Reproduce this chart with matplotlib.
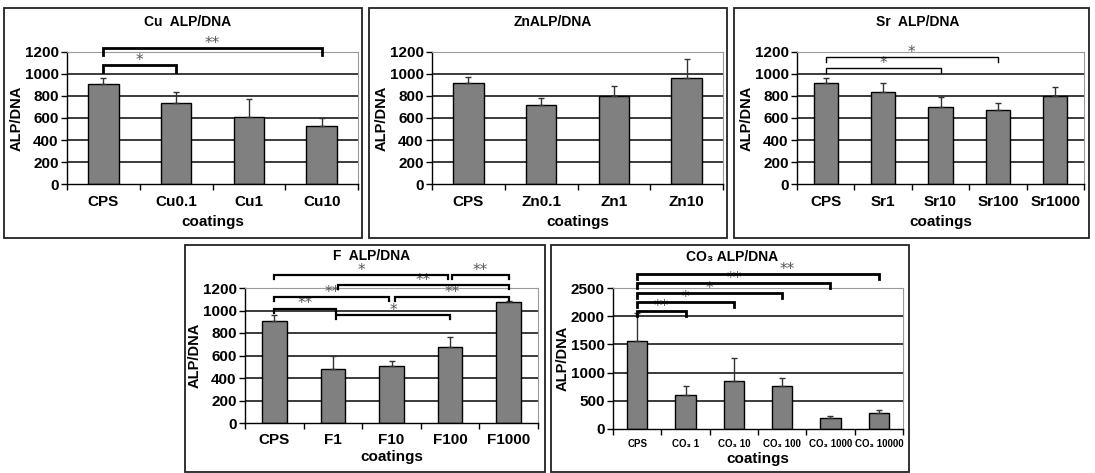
import matplotlib
matplotlib.use('Agg')
import matplotlib.pyplot as plt
from matplotlib.patches import Rectangle
import numpy as np

plt.rcParams['font.family'] = ['Liberation Sans', 'DejaVu Sans']
plt.rcParams['font.weight'] = 'bold'

W, H = 1095, 473

# ALP/DNA per coating (mean, upper SD)
cu_labels = ['CPS', 'Cu0.1', 'Cu1', 'Cu10']
cu_mean = [910, 733, 612, 527]
cu_err = [50, 106, 161, 70]
cu_sig = [(0, 1, 1080, '*', None), (0, 3, 1235, '**', None)]

zn_labels = ['CPS', 'Zn0.1', 'Zn1', 'Zn10']
zn_mean = [915, 718, 800, 960]
zn_err = [55, 65, 93, 172]
zn_sig = []

sr_labels = ['CPS', 'Sr1', 'Sr10', 'Sr100', 'Sr1000']
sr_mean = [915, 839, 697, 673, 800]
sr_err = [46, 76, 97, 60, 79]
sr_sig = [(0, 2, 1052, '*', None), (0, 3, 1152, '*', None)]

f_labels = ['CPS', 'F1', 'F10', 'F100', 'F1000']
f_mean = [908, 477, 509, 676, 1075]
f_err = [53, 121, 42, 89, 8]
f_sig = [(0, 2.96, 1313, '*', None), (3.04, 4, 1313, '**', None),
         (1.08, 4, 1223, '**', None),
         (0, 1.96, 1116, '**', None), (2.06, 4, 1116, '**', None),
         (0, 1.05, 1015, '**', None), (1.05, 3, 961, '*', None)]

co3_labels = ['CPS', 'CO₃ 1', 'CO₃ 10', 'CO₃ 100', 'CO₃ 1000', 'CO₃ 10000']
co3_mean = [1566, 608, 857, 756, 195, 283]
co3_err = [490, 150, 400, 148, 29, 59]
co3_sig = [(0, 5, 2748, '**', 3.1), (0, 4, 2588, '**', None),
           (0, 3, 2411, '*', None), (0, 2, 2245, '*', None),
           (0, 1, 2085, '**', None)]

fig = plt.figure(figsize=(W / 100, H / 100), dpi=100)


def px_axes(x0, x1, ytop, ybot):
    return fig.add_axes([x0 / W, 1 - ybot / H, (x1 - x0) / W, (ybot - ytop) / H])


def frame(x0, y0, x1, y1):
    fig.patches.append(Rectangle((x0 / W, 1 - y1 / H), (x1 - x0) / W, (y1 - y0) / H,
                                 transform=fig.transFigure, fill=False,
                                 edgecolor='#222222', linewidth=1.3))


def panel(rect, labels, mean, err, sig, ymax, ystep, title, title_xy,
          tick_size=11, leg=60, sig_lw=1.8, label_pad=4, tick_pad=8):
    ax = px_axes(*rect)
    n = len(labels)
    x = np.arange(n)
    for y in np.arange(ystep, ymax, ystep):
        ax.axhline(y, color='#1a1a1a', linewidth=1.2, zorder=1)
    ax.bar(x, mean, width=0.42, color='#808080', edgecolor='black',
           linewidth=1.0, zorder=2)
    ax.errorbar(x, mean, yerr=[np.zeros(n), err], fmt='none', ecolor='#333333',
                elinewidth=1.0, capsize=2.5, capthick=1.0, zorder=3)
    ax.set_xlim(-0.5, n - 0.5)
    ax.set_ylim(0, ymax)
    ax.set_yticks(np.arange(0, ymax + 1, ystep))
    ax.set_xticks(x)
    ax.set_xticklabels(labels, fontsize=tick_size, fontweight='bold')
    ax.set_xticks(np.arange(-0.5, n, 1.0), minor=True)
    ax.tick_params(axis='x', which='major', length=0, pad=tick_pad)
    ax.tick_params(axis='x', which='minor', length=4, direction='out', width=1)
    ax.tick_params(axis='y', length=4, direction='out', width=1, labelsize=11, pad=2)
    for lab in ax.get_yticklabels():
        lab.set_fontweight('bold')
    for s in ('left', 'bottom'):
        ax.spines[s].set_color('black')
        ax.spines[s].set_linewidth(1.0)
    for s in ('top', 'right'):
        ax.spines[s].set_color('#9a9a9a')
        ax.spines[s].set_linewidth(0.8)
    ax.set_xlabel('coatings', fontsize=11, fontweight='bold', labelpad=label_pad)
    ax.set_ylabel('ALP/DNA', fontsize=10.5, fontweight='bold', labelpad=1)
    for a, b, y, star, sx in sig:
        ax.plot([a, a, b, b], [y - leg, y, y, y - leg], color='black',
                linewidth=sig_lw, clip_on=False, zorder=4, solid_joinstyle='miter')
        xm = (a + b) / 2 if sx is None else sx
        ax.annotate(star, (xm, y), xytext=(0, 3.5), textcoords='offset points',
                    ha='center', va='center', fontsize=11, color='#555555',
                    fontweight='normal', family='DejaVu Sans', annotation_clip=False)
    fig.text(title_xy[0] / W, 1 - title_xy[1] / H, title, ha='center', va='center',
             fontsize=10, fontweight='bold')
    return ax


frame(4, 8, 362, 238)
frame(369, 8, 727, 238)
frame(734, 8, 1089, 238)
frame(185, 245, 545, 472)
frame(551, 245, 909, 472)

panel((67, 358, 52, 184), cu_labels, cu_mean, cu_err, cu_sig, 1200, 200,
      'Cu  ALP/DNA', (188, 22), leg=65, sig_lw=2.0)
panel((432, 723, 52, 184), zn_labels, zn_mean, zn_err, zn_sig, 1200, 200,
      'ZnALP/DNA', (553, 22))
panel((797, 1084, 52, 184), sr_labels, sr_mean, sr_err, sr_sig, 1200, 200,
      'Sr  ALP/DNA', (918, 22), leg=45, sig_lw=1.0)
panel((245, 538, 288, 423), f_labels, f_mean, f_err, f_sig, 1200, 200,
      'F  ALP/DNA', (372, 256), leg=35, sig_lw=1.6, label_pad=2, tick_pad=7)
panel((613, 903, 288, 429), co3_labels, co3_mean, co3_err, co3_sig, 2500, 500,
      'CO₃ ALP/DNA', (732, 257), tick_size=7, leg=90, sig_lw=2.0,
      label_pad=2, tick_pad=7)

fig.savefig('out.png', dpi=100)
